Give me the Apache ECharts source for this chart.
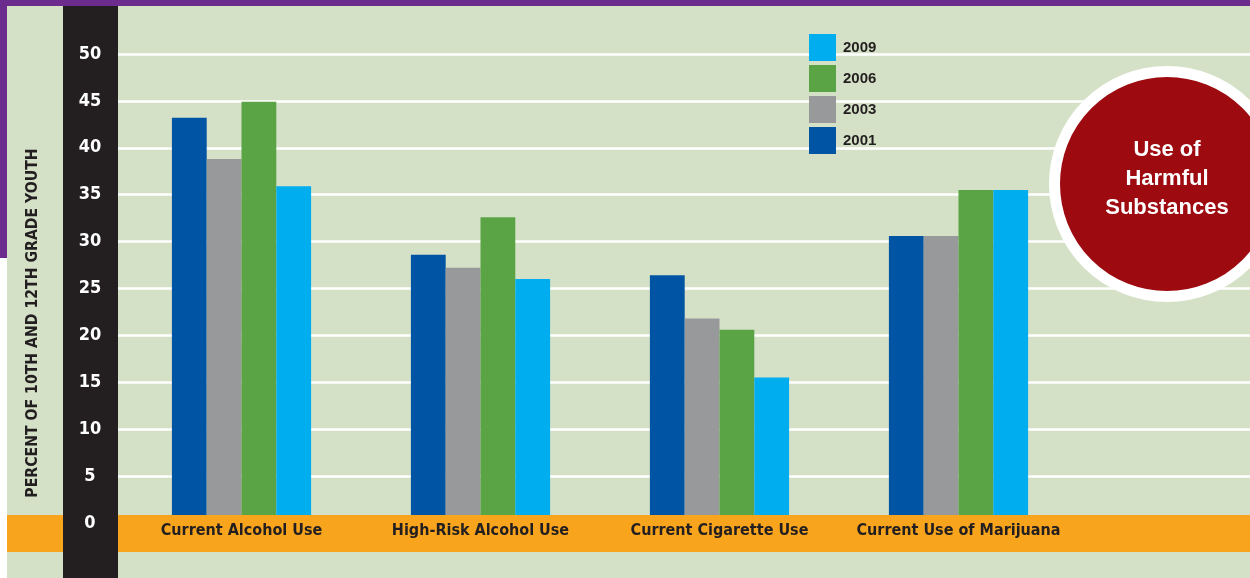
<!DOCTYPE html>
<html>
<head>
<meta charset="utf-8">
<script src="https://cdn.jsdelivr.net/npm/echarts@6/dist/echarts.min.js"></script>
<style>
html,body{margin:0;padding:0;background:#fff;}
#chart{width:1250px;height:578px;}
</style>
</head>
<body>
<div id="chart"></div>
<script>
const categories = ['Current Alcohol Use', 'High-Risk Alcohol Use', 'Current Cigarette Use', 'Current Use of Marijuana'];
const years = ['2001', '2003', '2006', '2009'];
const values2001 = [43.2, 28.6, 26.4, 30.6];
const values2003 = [38.8, 27.2, 21.8, 30.6];
const values2006 = [44.9, 32.6, 20.6, 35.5];
const values2009 = [35.9, 26.0, 15.5, 35.5];
const legendOrder = ['2009', '2006', '2003', '2001'];
const yTicks = { min: 0, max: 50, interval: 5 };
const axisTitle = 'PERCENT OF 10TH AND 12TH GRADE YOUTH';
const badgeText = 'Use of\nHarmful\nSubstances';

const colors = { '2001': '#0054a4', '2003': '#98999b', '2006': '#5ba446', '2009': '#00adee' };
const seriesValues = { '2001': values2001, '2003': values2003, '2006': values2006, '2009': values2009 };
const narrow = "'Liberation Sans Narrow', 'DejaVu Sans Condensed', 'Arial Narrow', sans-serif";
const dark = '#231f20';

const chart = echarts.init(document.getElementById('chart'), null, { renderer: 'canvas' });

const option = {
  backgroundColor: '#d5e1c7',
  animation: false,
  grid: [
    { left: 122, width: 956, top: 54, height: 469 },
    { left: 118, right: 0, top: 54, height: 469 }
  ],
  legend: {
    data: legendOrder,
    orient: 'vertical',
    left: 804,
    top: 29,
    itemWidth: 27,
    itemHeight: 27,
    itemGap: 4,
    icon: 'rect',
    textStyle: { color: dark, fontWeight: 'bold', fontSize: 15, fontFamily: 'Liberation Sans, Arial, sans-serif', padding: [0, 0, 0, 2] }
  },
  xAxis: [
    {
      type: 'category', gridIndex: 0, data: categories, z: 10,
      axisLine: { show: false }, axisTick: { show: false },
      axisLabel: { interval: 0, color: dark, fontWeight: 'bold', fontSize: 16, fontFamily: narrow, margin: 8, verticalAlign: 'middle' }
    },
    { type: 'value', gridIndex: 1, min: 0, max: 1, show: false }
  ],
  yAxis: [
    {
      type: 'value', gridIndex: 0, min: yTicks.min, max: yTicks.max, interval: yTicks.interval, z: 10,
      axisLine: { show: false }, axisTick: { show: false }, splitLine: { show: false },
      axisLabel: { color: '#ffffff', fontWeight: 'bold', fontSize: 18, fontFamily: narrow, margin: 32, align: 'center' }
    },
    {
      type: 'value', gridIndex: 1, min: yTicks.min, max: yTicks.max, interval: yTicks.interval, z: 1,
      axisLine: { show: false }, axisTick: { show: false }, axisLabel: { show: false },
      splitLine: { show: true, lineStyle: { color: '#ffffff', width: 2.5 } }
    }
  ],
  series: years.map(y => ({
    name: y,
    type: 'bar',
    xAxisIndex: 0,
    yAxisIndex: 0,
    data: seriesValues[y],
    barWidth: 34.8,
    barGap: '0%',
    itemStyle: { color: colors[y] },
    z: 2
  })),
  graphic: [
    { type: 'rect', z: 0, shape: { x: 0, y: 0, width: 1250, height: 6 }, style: { fill: '#6c2c8d' } },
    { type: 'rect', z: 0, shape: { x: 0, y: 0, width: 7, height: 258 }, style: { fill: '#6c2c8d' } },
    { type: 'rect', z: 0, shape: { x: 0, y: 258, width: 7, height: 320 }, style: { fill: '#ffffff' } },
    { type: 'rect', z: 5, shape: { x: 7, y: 515, width: 1243, height: 37 }, style: { fill: '#f8a51d' } },
    { type: 'rect', z: 6, shape: { x: 63, y: 6, width: 55, height: 572 }, style: { fill: dark } },
    { type: 'circle', z: 6, shape: { cx: 1167, cy: 184, r: 112.5 }, style: { fill: '#9d0a10', stroke: '#ffffff', lineWidth: 11 } },
    { type: 'text', z: 7, x: 1167, y: 179, style: { text: badgeText, fill: '#ffffff', font: 'bold 22px "Liberation Sans", Arial, sans-serif', lineHeight: 29, textAlign: 'center', textVerticalAlign: 'middle' } },
    { type: 'text', z: 7, x: 33, y: 323, rotation: Math.PI / 2, style: { text: axisTitle, fill: dark, font: 'bold 15.7px ' + narrow, textAlign: 'center', textVerticalAlign: 'middle' } }
  ]
};
chart.setOption(option);
</script>
</body>
</html>
